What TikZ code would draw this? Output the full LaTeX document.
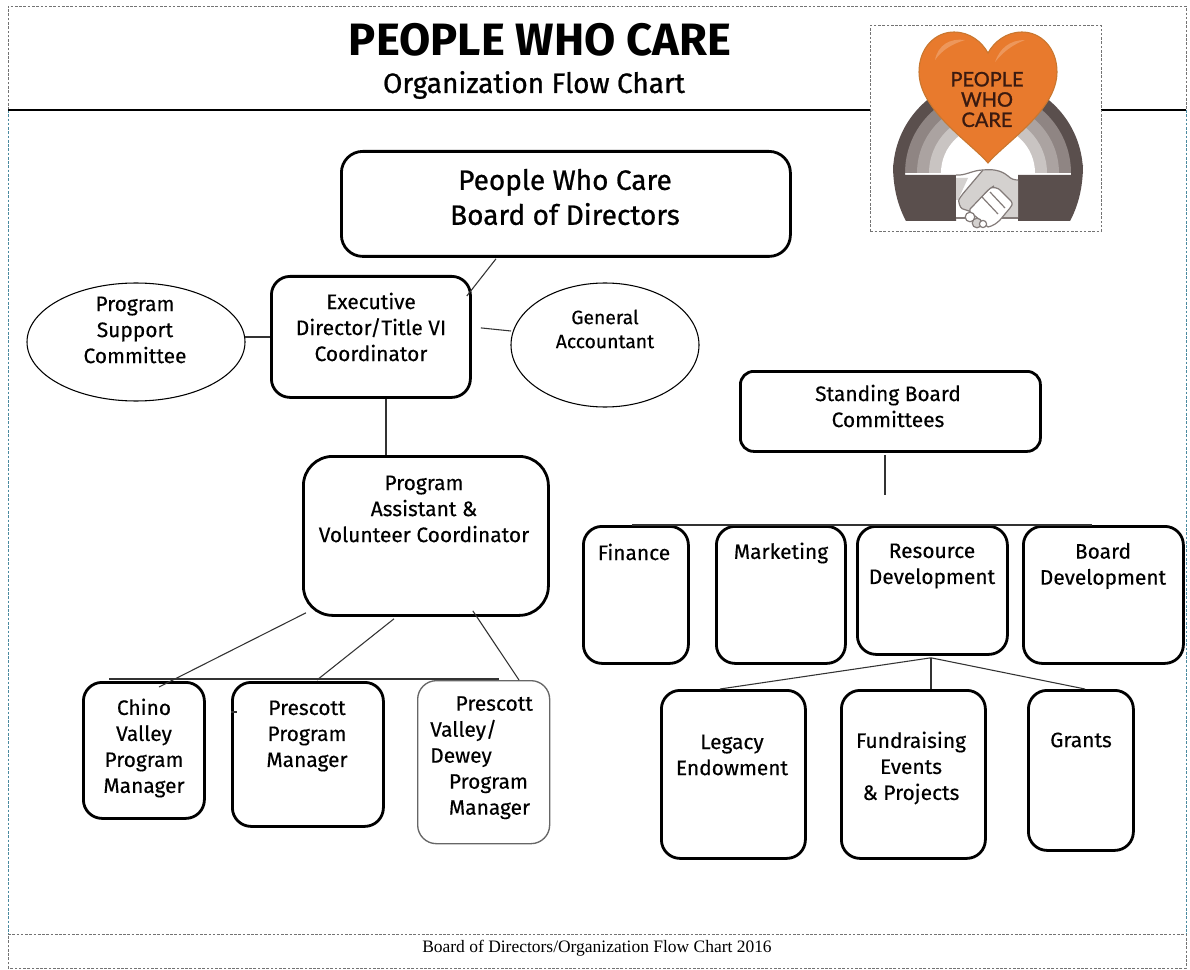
\documentclass[tikz,border=0pt]{standalone}
\usepackage{fontspec}
\usetikzlibrary{shapes.geometric,calc}
\setmainfont{Fira Sans}
\newfontfamily\serifF{Liberation Serif}
\newfontfamily\logoF{Lato}
\newcommand{\fs}[2]{\fontsize{#1}{#2}\selectfont}
\definecolor{heartO}{HTML}{E87A2D}
\definecolor{heartE}{HTML}{C9772F}
\definecolor{bandA}{HTML}{5A4F4D}
\definecolor{bandB}{HTML}{8F8583}
\definecolor{bandC}{HTML}{ABA3A1}
\definecolor{bandD}{HTML}{C9C4C2}
\definecolor{hand}{HTML}{D4D1CF}
\definecolor{dotB}{HTML}{4A8AA0}
\definecolor{logoT}{HTML}{3A1A10}
\tikzset{
 x=0.75pt,y=-0.75pt,
 box/.style={draw=black,line width=2.1pt,rounded corners=14pt,anchor=north west,inner sep=0pt,fill=white},
 thinbox/.style={box,draw=black!60,line width=1pt},
 oval/.style={draw=black,line width=0.8pt,ellipse,anchor=center,inner sep=0pt},
 conn/.style={draw=black!80,line width=0.8pt},
 frame/.style={draw=black!55,line width=0.7pt,dash pattern=on 2pt off 1.2pt},
 handline/.style={draw=bandA!75,line width=0.9pt,line join=round},
 lbl/.style={align=center,inner sep=0pt,font=\fs{15.7}{19.5}\addfontfeature{FakeBold=0.3}},
}
\newcommand{\bx}[6]{\node[#6,minimum width=#4*0.75pt-#2*0.75pt-0.75pt,minimum height=#5*0.75pt-#3*0.75pt-0.75pt] (#1) at (#2-1,#3-1) {};}
\begin{document}
\begin{tikzpicture}
\useasboundingbox (0,0) rectangle (1190,970);
\fill[white] (0,0) rectangle (1190,970);
% frames
\coordinate (fTL) at (8,6); \coordinate (fTR) at (1186,6);
\coordinate (fHL) at (8,110); \coordinate (fHR) at (1186,110);
\coordinate (fFL) at (8,934); \coordinate (fFR) at (1186,934);
\coordinate (fBL) at (8,968); \coordinate (fBR) at (1186,968);
\draw[frame] (fHL) -- (fTL) -- (fTR) -- (fHR);
\draw[frame,draw=dotB] (fHL) -- (fFL);
\draw[frame,draw=dotB] (fHR) -- (fFR);
\draw[frame] (fFL) -- (fFR) -- (fBR) -- (fBL) -- cycle;
\coordinate (lgL) at (870,110); \coordinate (lgR) at (1101,110);
\draw[black,line width=1pt] (fHL) -- (lgL);
\draw[black,line width=1pt] (lgR) -- (fHR);
% titles
\node[inner sep=0pt,font=\bfseries\fs{34}{40}] (title) at (540,40) {PEOPLE WHO CARE};
\node[inner sep=0pt,font=\fs{21}{25}\addfontfeature{FakeBold=0.8}] (sub) at (534,85) {Organization Flow Chart};
\node[inner sep=0pt,font=\serifF\fs{13.1}{15}] (foot) at (597,948) {Board of Directors/Organization Flow Chart 2016};
% logo
\node[frame,anchor=north west,minimum width=173pt,minimum height=154.5pt,inner sep=0pt] (logoframe) at (870,25) {};
\begin{scope}
\fill[bandA] (893,173) arc[start angle=180,end angle=360,radius=95] -- cycle;
\fill[bandB] (905,173) arc[start angle=180,end angle=360,radius=83] -- cycle;
\fill[bandC] (917,173) arc[start angle=180,end angle=360,radius=71] -- cycle;
\fill[bandD] (929,173) arc[start angle=180,end angle=360,radius=59] -- cycle;
\fill[white] (941,173) arc[start angle=180,end angle=360,radius=47] -- cycle;
\fill[bandA] (893,165) -- (905,165) -- (905,175) -- (956,175) -- (956,221) -- (906,221) .. controls (899,208) and (893,190) .. cycle;
\fill[bandA] (1083,165) -- (1071,165) -- (1071,175) -- (1018,175) -- (1018,221) -- (1070,221) .. controls (1077,208) and (1083,190) .. cycle;
% handshake
\fill[white] (956,175) .. controls (965,176) and (973,170) .. (983,170) -- (990,218) -- (956,218) -- cycle;
\fill[hand] (983,170) .. controls (992,169) and (1001,170) .. (1008,176) .. controls (1011,179) and (1014,180) .. (1018,180) -- (1018,218) -- (1000,218) -- (985,196) -- (968,211) -- cycle;
\fill[hand] (956,178) -- (968,178) -- (958,200) -- (956,200) -- cycle;
\draw[handline] (956,175) .. controls (965,176) and (973,170) .. (983,170) .. controls (992,169) and (1001,170) .. (1008,176) .. controls (1011,179) and (1014,180) .. (1018,180);
\draw[handline] (956,218) -- (969,218);
\draw[handline] (998,218) -- (1018,218);
\draw[handline,fill=white] (990,188) .. controls (994,187) and (998,188) .. (1000,190) -- (1011,201) .. controls (1013,204) and (1012,206) .. (1010,208) -- (1000,220) .. controls (997,223) and (993,226) .. (988,227) -- (968,210) -- cycle;
\draw[handline,fill=hand,rounded corners=3pt] (983,170) -- (961,196) .. controls (958,201) and (960,208) .. (966,210) .. controls (969,211) and (971,208) .. (973,206) -- (990,188) -- (994,186);
\draw[handline] (982,197) -- (998,214);
\draw[handline] (990,192) -- (1005,208);
\draw[handline,fill=white] (970,217) circle[radius=4.8];
\draw[handline,fill=hand] (977,223) circle[radius=4.8];
\draw[handline,fill=white] (983,224) circle[radius=3.6];
% heart
\draw[heartE,line width=0.8pt,fill=heartO] (988,163) .. controls (970,142) and (919,110) .. (919,72) .. controls (919,48) and (935,32) .. (954,32) .. controls (970,32) and (982,42) .. (988,53) .. controls (994,42) and (1006,32) .. (1022,32) .. controls (1041,32) and (1057,48) .. (1057,72) .. controls (1057,110) and (1006,142) .. cycle;
\fill[white,opacity=0.22] (935,60) .. controls (938,45) and (950,38) .. (965,40) .. controls (952,44) and (942,50) .. cycle;
\fill[white,opacity=0.22] (995,62) .. controls (1000,48) and (1010,40) .. (1025,40) .. controls (1012,45) and (1003,52) .. cycle;
\end{scope}
\node[inner sep=0pt,align=center,text=logoT,font=\logoF\fs{15}{15.2}\addfontfeature{FakeBold=1.2}] (logotext) at (987,99.5) {PEOPLE\\WHO\\CARE};
% boxes
\bx{board}{341}{151}{791}{257}{box,rounded corners=16pt}
\bx{exec}{271}{276}{471}{398}{box}
\bx{assist}{303}{456}{549}{616}{box,rounded corners=22pt}
\bx{stand}{740}{371}{1041}{452}{box,rounded corners=10pt}
\bx{finance}{583}{526}{689}{664}{box}
\bx{market}{716}{526}{846}{664}{box}
\bx{resource}{857}{526}{1008}{655}{box}
\bx{bdev}{1023}{526}{1184}{664}{box}
\bx{legacy}{661}{690}{806}{859}{box}
\bx{fund}{841}{690}{986}{859}{box}
\bx{grants}{1028}{690}{1134}{851}{box}
\bx{chino}{83}{682}{205}{819}{box}
\bx{presc}{232}{682}{384}{827}{box}
\bx{pval}{418}{681}{551}{845}{thinbox}
\node[oval,minimum width=163.5pt,minimum height=88.5pt] (psc) at (136,342) {};
\node[oval,minimum width=141pt,minimum height=93pt] (ga) at (605,345) {};
% connectors
\draw[conn] ($(board.south west)+(156,1)$) -- ($(exec.north east)+(-5,21)$);
\coordinate (pscE) at (245,337);
\draw[conn] (pscE) -- (pscE -| exec.west);
\coordinate (gaW) at (511,331);
\draw[conn] ($(exec.east)+(9,-9)$) -- (gaW);
\draw[conn] ($(exec.south west)+(116,0)$) -- ($(assist.north west)+(84,0)$);
\draw[conn] ($(stand.south west)+(146,2)$) -- ($(stand.south west)+(146,42)$);
\draw[conn] ($(finance.north west)+(50,0)$) -- ($(bdev.north west)+(70,0)$);
\coordinate (rs) at ($(resource.south west)+(75,2)$);
\draw[conn] (rs) -- ($(legacy.north west)+(60,0)$);
\draw[conn] (rs) -- (rs |- fund.north);
\draw[conn] (rs) -- ($(grants.north west)+(58,0)$);
\draw[conn] ($(assist.south west)+(4,-4)$) -- ($(chino.north west)+(77,6)$);
\draw[conn] ($(assist.south west)+(92,2)$) -- ($(presc.north west)+(86,-1)$);
\draw[conn] ($(assist.south east)+(-77,-6)$) -- ($(pval.north west)+(102,0)$);
\draw[conn,line width=1pt] ($(chino.north west)+(27,-2)$) -- ($(pval.north west)+(82,-1)$);
\draw[conn] ($(presc.north west)+(0,31)$) -- ($(presc.north west)+(6,31)$);
% labels
\node[lbl,font=\fs{21}{26.2}\addfontfeature{FakeBold=0.8}] (tboard) at (565,197) {People Who Care\\Board of Directors};
\node[lbl] (texec) at (371,327) {Executive\\Director/Title VI\\Coordinator};
\node[lbl] (tassist) at (424,509) {Program\\Assistant \&\\Volunteer Coordinator};
\node[lbl] (tpsc) at (135,330) {Program\\Support\\Committee};
\node[lbl,font=\fs{14.5}{18}\addfontfeature{FakeBold=0.3}] (tga) at (605,329) {General\\Accountant};
\node[lbl] (tstand) at (888,406) {Standing Board\\Committees};
\node[lbl] (tfin) at (634,552) {Finance};
\node[lbl] (tmar) at (781,553) {Marketing};
\node[lbl] (tres) at (932,566) {Resource\\Development};
\node[lbl] (tbd) at (1103,566) {Board\\Development};
\node[lbl] (tleg) at (732,755) {Legacy\\Endowment};
\node[lbl] (tfun) at (911,768) {Fundraising\\Events\\\& Projects};
\node[lbl] (tgra) at (1081,740) {Grants};
\node[lbl] (tchi) at (144,748) {Chino\\Valley\\Program\\Manager};
\node[lbl] (tpre) at (307,736) {Prescott\\Program\\Manager};
\node[lbl,align=left,anchor=north west] (tpv) at (430,696) {\hspace*{19pt}Prescott\\Valley/\\Dewey\\\hspace*{14pt}Program\\\hspace*{14pt}Manager};
\end{tikzpicture}
\end{document}
